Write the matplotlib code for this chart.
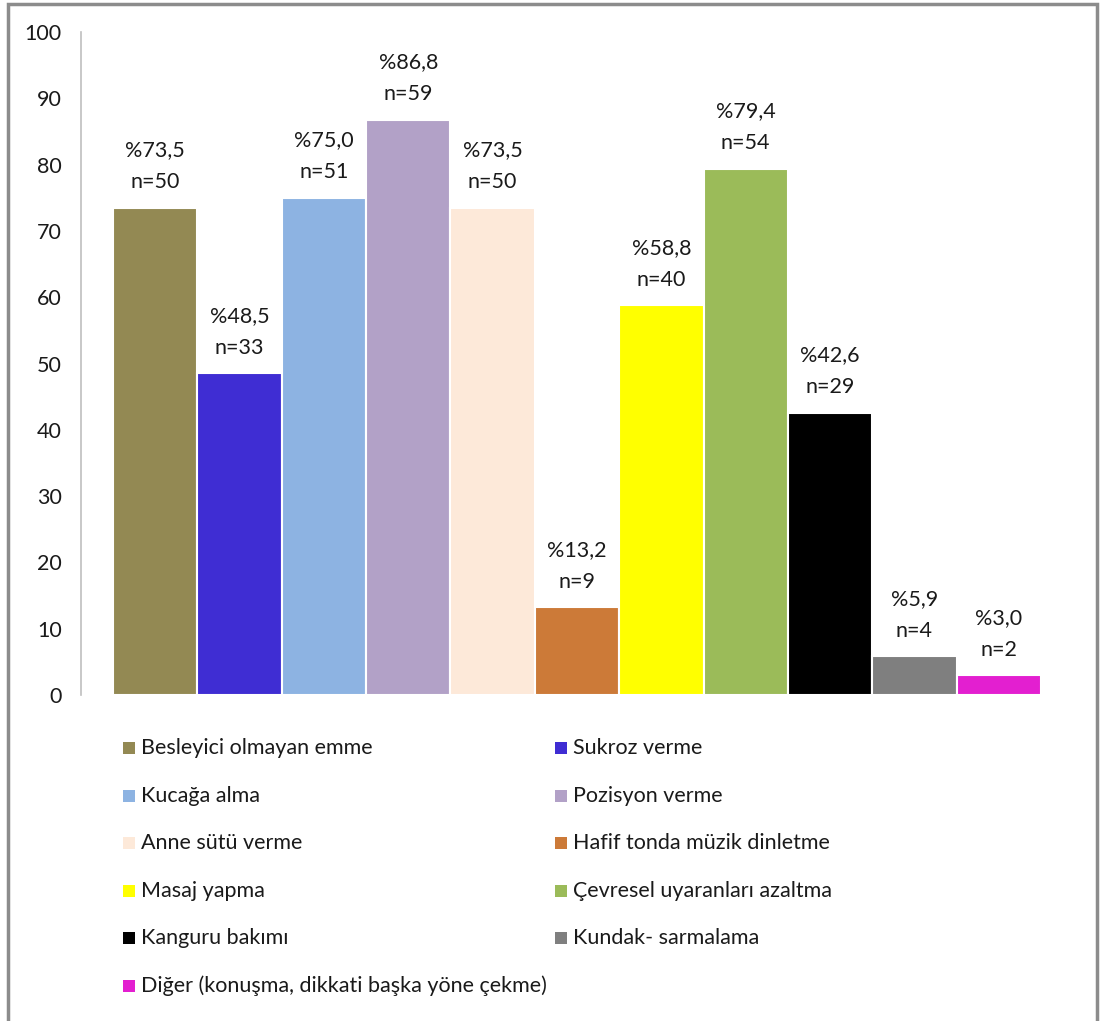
import matplotlib.pyplot as plt
from matplotlib.patches import Rectangle

plt.rcParams['font.family'] = ['Lato', 'DejaVu Sans']

labels = ["Besleyici olmayan emme", "Sukroz verme", "Kucağa alma", "Pozisyon verme",
          "Anne sütü verme", "Hafif tonda müzik dinletme", "Masaj yapma",
          "Çevresel uyaranları azaltma", "Kanguru bakımı", "Kundak- sarmalama",
          "Diğer (konuşma, dikkati başka yöne çekme)"]
percents = [73.5, 48.5, 75.0, 86.8, 73.5, 13.2, 58.8, 79.4, 42.6, 5.9, 3.0]
counts = [50, 33, 51, 59, 50, 9, 40, 54, 29, 4, 2]
colors = ["#938953", "#3F2DD3", "#8DB3E2", "#B2A1C7", "#FDE9D9", "#CC7A38",
          "#FFFF00", "#9BBB59", "#000000", "#7F7F7F", "#E31FD0"]

W, H = 1101, 1021
fig = plt.figure(figsize=(W / 100, H / 100), dpi=100)

# outer frame like the pasted chart
fig.add_artist(Rectangle((8 / W, -0.01), (1097 - 8) / W, 1.01 - 4 / H,
                         transform=fig.transFigure, fill=False,
                         edgecolor="#8c8c8c", lw=2.5))

ax = fig.add_axes([81 / W, 1 - 695 / H, (1073 - 81) / W, (695 - 32) / H])
x = list(range(len(percents)))
bars = ax.bar(x, percents, width=1.0, color=colors, edgecolor="white", linewidth=1.5)

for xi, p, n in zip(x, percents, counts):
    ax.annotate(f"%{p:.1f}".replace(".", ",") + f"\nn={n}", (xi, p),
                xytext=(0, 11), textcoords="offset points", ha="center", va="bottom",
                fontsize=15.5, color="#1a1a1a", linespacing=1.75)

ax.set_xlim(-0.88, 10.88)
ax.set_ylim(0, 100)
ax.set_yticks(range(0, 101, 10))
ax.set_xticks([])
ax.tick_params(axis="y", length=0, labelsize=15.5, pad=14, colors="#1a1a1a")
for s in ["top", "right", "bottom"]:
    ax.spines[s].set_visible(False)
ax.spines["left"].set_color("#bfbfbf")
ax.spines["left"].set_linewidth(1.2)

# legend, two columns, filled row by row
col_x = [123, 555]
row_y0, row_dy = 748, 47.5
for i, (lab, c) in enumerate(zip(labels, colors)):
    r, col = divmod(i, 2)
    yy = row_y0 + r * row_dy
    fig.add_artist(Rectangle((col_x[col] / W, 1 - (yy + 6) / H), 12 / W, 12 / H,
                             transform=fig.transFigure, facecolor=c, edgecolor="none"))
    fig.text((col_x[col] + 18) / W, 1 - yy / H, lab, fontsize=15.5,
             va="center", ha="left", color="#1a1a1a")

fig.savefig("out.png", dpi=100)
